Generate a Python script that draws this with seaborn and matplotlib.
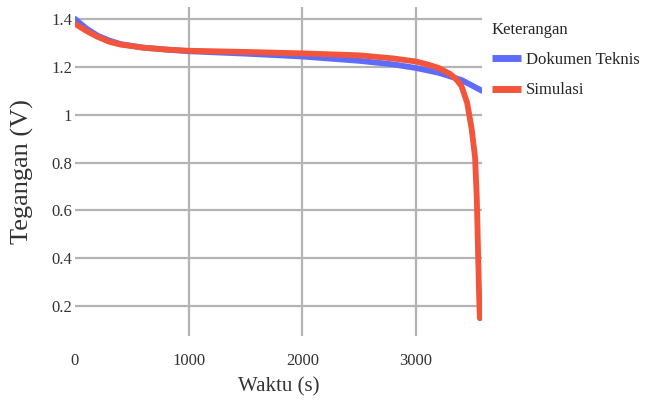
import seaborn as sns
import matplotlib.pyplot as plt
import pandas as pd

# data
time_doc = [0, 100, 200, 300, 400, 600, 800, 1000, 1500, 2000, 2500, 2800,
            3000, 3200, 3300, 3400, 3500, 3580]
volt_doc = [1.40, 1.36, 1.33, 1.31, 1.295, 1.28, 1.272, 1.265, 1.255, 1.243,
            1.225, 1.21, 1.195, 1.175, 1.16, 1.145, 1.12, 1.10]

time_sim = [0, 100, 200, 300, 400, 600, 800, 1000, 1500, 2000, 2500, 2800,
            3000, 3100, 3200, 3300, 3350, 3400, 3450, 3490, 3520, 3535, 3545,
            3555, 3562]
volt_sim = [1.38, 1.35, 1.325, 1.305, 1.293, 1.28, 1.272, 1.267, 1.262, 1.256,
            1.248, 1.235, 1.222, 1.21, 1.195, 1.17, 1.15, 1.12, 1.05, 0.94,
            0.82, 0.65, 0.45, 0.25, 0.15]

series_names = ["Dokumen Teknis", "Simulasi"]
x_ticks = [0, 1000, 2000, 3000]
y_ticks = [0.2, 0.4, 0.6, 0.8, 1.0, 1.2, 1.4]
y_labels = ["0.2", "0.4", "0.6", "0.8", "1", "1.2", "1.4"]

df = pd.concat([
    pd.DataFrame({"Waktu": time_doc, "Tegangan": volt_doc, "Keterangan": series_names[0]}),
    pd.DataFrame({"Waktu": time_sim, "Tegangan": volt_sim, "Keterangan": series_names[1]}),
])

sns.set_style("white")
plt.rcParams["font.family"] = ["Liberation Serif", "DejaVu Serif"]

fig = plt.figure(figsize=(6.46, 4.08), dpi=100)
ax = fig.add_axes([0.116, 0.176, 0.63, 0.807])

sns.lineplot(data=df, x="Waktu", y="Tegangan", hue="Keterangan",
             palette={"Dokumen Teknis": "#5f6cfb", "Simulasi": "#f2553b"},
             linewidth=4.2, sort=False, estimator=None, ax=ax, zorder=3)

ax.set_xlim(0, 3580)
ax.set_ylim(0.075, 1.45)
ax.set_xticks(x_ticks)
ax.set_xticklabels([str(t) for t in x_ticks])
ax.set_yticks(y_ticks)
ax.set_yticklabels(y_labels)
ax.tick_params(axis="both", length=0, labelsize=12, colors="#333333")
ax.tick_params(axis="x", pad=12)
ax.tick_params(axis="y", pad=2)
ax.grid(True, color="#b4b4b4", linewidth=1.6)
ax.xaxis.get_gridlines()[0].set_visible(False)
for s in ax.spines.values():
    s.set_visible(False)

ax.set_xlabel("Waktu (s)", fontsize=15, color="#333333", labelpad=6)
ax.set_ylabel("Tegangan (V)", fontsize=19, color="#333333", labelpad=12)

leg = ax.legend(title="Keterangan", loc="upper left",
                bbox_to_anchor=(492 / 646, 1 - 22 / 408),
                bbox_transform=fig.transFigure, borderpad=0, borderaxespad=0,
                frameon=False, fontsize=12, title_fontsize=12,
                handlelength=1.75, handletextpad=0.3, labelspacing=0.85)
leg._legend_box.align = "left"
for line in leg.get_lines():
    line.set_linewidth(5)
    line.set_solid_capstyle("butt")

fig.savefig("out.png", dpi=100)
